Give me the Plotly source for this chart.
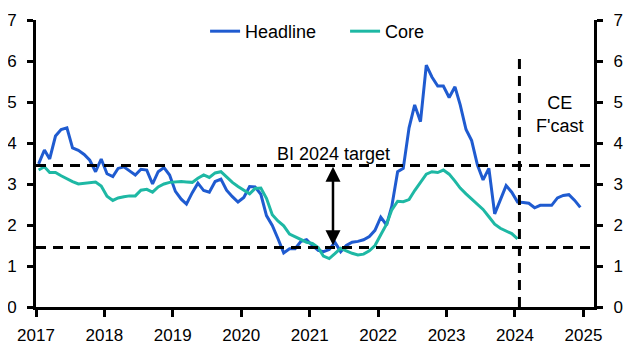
import plotly.graph_objects as go

# ---- data ----
headline_values = [
    3.49, 3.83, 3.61, 4.17, 4.33, 4.37, 3.88, 3.82, 3.72, 3.58, 3.30, 3.61,  # 2017
    3.25, 3.18, 3.38, 3.42, 3.32, 3.22, 3.36, 3.34, 3.00, 3.30, 3.40, 3.22,  # 2018
    2.82, 2.63, 2.51, 2.79, 3.02, 2.84, 2.80, 3.06, 3.12, 2.85, 2.69, 2.56,  # 2019
    2.67, 2.94, 2.93, 2.75, 2.23, 1.99, 1.67, 1.32, 1.42, 1.42, 1.60, 1.64,  # 2020
    1.50, 1.38, 1.35, 1.40, 1.58, 1.35, 1.50, 1.58, 1.60, 1.64, 1.72, 1.87,  # 2021
    2.19, 2.00, 2.46, 3.30, 3.38, 4.37, 4.93, 4.52, 5.90, 5.61, 5.39, 5.39,  # 2022
    5.11, 5.37, 4.93, 4.33, 4.06, 3.46, 3.10, 3.38, 2.27, 2.62, 2.96, 2.80,  # 2023
    2.56, 2.55, 2.53, 2.42, 2.48, 2.48, 2.48, 2.66, 2.72, 2.74, 2.60, 2.43,  # 2024
]
core_values = [
    3.34, 3.42, 3.28, 3.28, 3.20, 3.12, 3.06, 3.00, 3.02, 3.04, 3.05, 2.95,  # 2017
    2.70, 2.60, 2.66, 2.69, 2.71, 2.71, 2.85, 2.87, 2.80, 2.93, 3.00, 3.04,  # 2018
    3.05, 3.06, 3.05, 3.04, 3.14, 3.22, 3.16, 3.27, 3.30, 3.17, 3.04, 2.94,  # 2019
    2.85, 2.76, 2.89, 2.90, 2.65, 2.25, 2.10, 1.98, 1.78, 1.71, 1.64, 1.58,  # 2020
    1.55, 1.45, 1.24, 1.18, 1.30, 1.43, 1.37, 1.31, 1.27, 1.29, 1.37, 1.50,  # 2021
    1.76, 2.02, 2.37, 2.58, 2.57, 2.62, 2.84, 3.03, 3.24, 3.30, 3.28, 3.34,  # 2022
    3.24, 3.07, 2.90, 2.76, 2.64, 2.52, 2.38, 2.20, 2.02, 1.92, 1.86, 1.79,  # 2023
    1.66,                                                                    # 2024
]
start_year = 2017
headline_dates = [f"{start_year + i // 12}-{i % 12 + 1:02d}-15" for i in range(len(headline_values))]
core_dates = [f"{start_year + i // 12}-{i % 12 + 1:02d}-15" for i in range(len(core_values))]

year_ticks = [2017, 2018, 2019, 2020, 2021, 2022, 2023, 2024, 2025]
y_ticks = [0, 1, 2, 3, 4, 5, 6, 7]
target_upper = 3.45
target_lower = 1.45
forecast_start = "2024-01-25"
forecast_line_top = 6.1
arrow_date = "2021-05-05"

FONT = "Liberation Sans, Arial, sans-serif"
BLUE = "#1f5bd0"
TEAL = "#1eb8a4"

fig = go.Figure()
fig.add_trace(go.Scatter(x=headline_dates, y=headline_values, mode="lines", name="Headline",
                         line=dict(color=BLUE, width=3)))
fig.add_trace(go.Scatter(x=core_dates, y=core_values, mode="lines", name="Core",
                         line=dict(color=TEAL, width=3)))
# invisible trace to activate right axis
fig.add_trace(go.Scatter(x=core_dates[:1], y=core_values[:1], yaxis="y2", mode="lines",
                         line=dict(width=0), showlegend=False, hoverinfo="skip", opacity=0))

dash = "10px,7px"
for yv in (target_upper, target_lower):
    fig.add_shape(type="line", xref="paper", yref="y", x0=0, x1=1, y0=yv, y1=yv,
                  line=dict(color="black", width=3, dash=dash), layer="above")
fig.add_shape(type="line", xref="x", yref="y", x0=forecast_start, x1=forecast_start,
              y0=0, y1=forecast_line_top, line=dict(color="black", width=3, dash=dash), layer="above")

fig.add_annotation(x=arrow_date, y=3.42, ax=arrow_date, ay=1.47, xref="x", yref="y",
                   axref="x", ayref="y", showarrow=True, arrowhead=2, startarrowhead=2,
                   arrowside="end+start", arrowsize=1.2, startarrowsize=1.2,
                   arrowwidth=2.5, arrowcolor="black", text="")
fig.add_annotation(x="2021-05-10", y=3.74, text="BI 2024 target", showarrow=False,
                   font=dict(family=FONT, size=18, color="black"))
fig.add_annotation(x="2024-08-28", y=4.70, text="CE<br>F'cast", showarrow=False,
                   font=dict(family=FONT, size=18, color="black"))

axis_common = dict(showline=True, linewidth=3, linecolor="black", ticks="outside",
                   tickwidth=2.5, tickcolor="black", showgrid=False, zeroline=False,
                   automargin=False,
                   tickfont=dict(family=FONT, size=17, color="black"))
# page body has an 8px default margin, so the figure is shrunk by 8px and margins shifted
fig.update_layout(
    width=626, height=350,
    margin=dict(l=28, r=40, t=5, b=51),
    plot_bgcolor="white", paper_bgcolor="white",
    font=dict(family=FONT, size=17, color="black"),
    showlegend=True,
    legend=dict(orientation="h", x=0.303, xanchor="left", y=0.96, yanchor="middle",
                entrywidth=95, entrywidthmode="pixels",
                font=dict(family=FONT, size=18, color="black"), bgcolor="rgba(0,0,0,0)"),
    xaxis=dict(type="date", range=["2017-01-01", "2025-02-26"],
               tickvals=[f"{y}-01-01" for y in year_ticks], ticktext=[str(y) for y in year_ticks],
               ticklen=7, ticklabelstandoff=4, **axis_common),
    yaxis=dict(range=[0, 7], tickvals=y_ticks, ticklen=6, ticklabelstandoff=7, **axis_common),
    yaxis2=dict(range=[0, 7], tickvals=y_ticks, ticklen=6, ticklabelstandoff=7, overlaying="y",
                side="right", anchor="x", **axis_common),
)

fig.write_html("out.html")
